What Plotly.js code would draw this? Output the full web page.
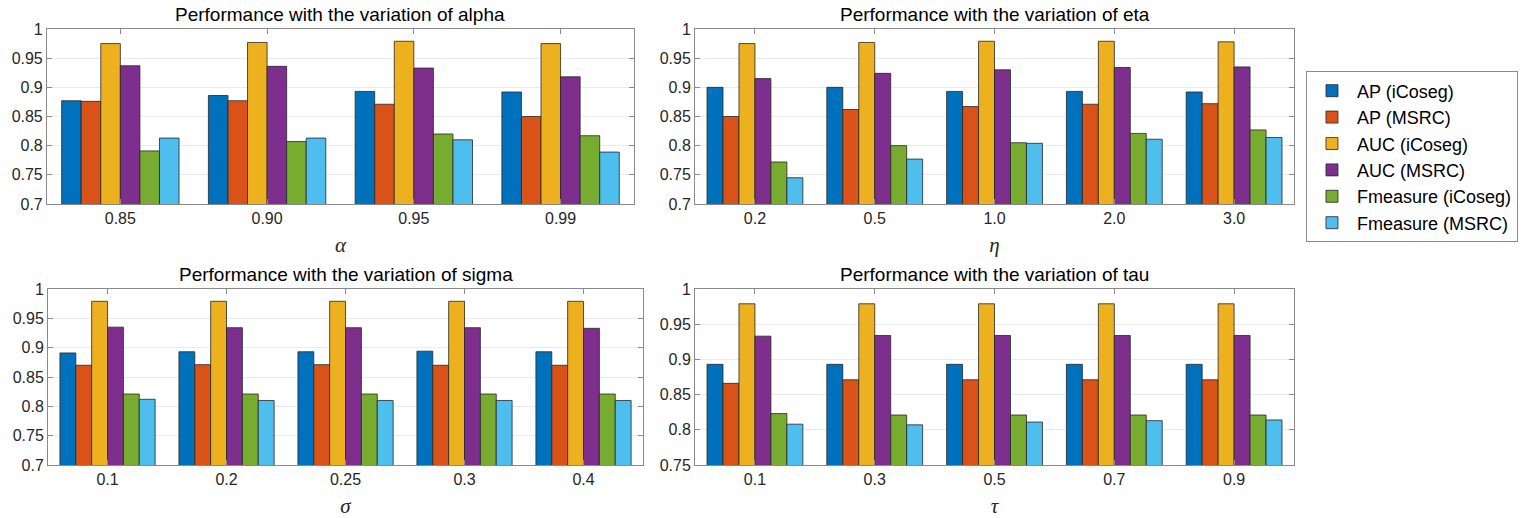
<!DOCTYPE html>
<html>
<head>
<meta charset="utf-8">
<script src="https://cdn.plot.ly/plotly-3.0.1.min.js"></script>
<style>body{margin:0;background:#fff}#myDiv{width:1535px;height:518px}</style>
</head>
<body>
<div id="myDiv"></div>
<script>
var seriesNames = ['AP (iCoseg)', 'AP (MSRC)', 'AUC (iCoseg)', 'AUC (MSRC)', 'Fmeasure (iCoseg)', 'Fmeasure (MSRC)'];
var seriesColors = ['#0072BD', '#D95319', '#EDB120', '#7E2F8E', '#77AC30', '#4DBEEE'];

// one row per series, same order as seriesNames
var alphaCats = ['0.85', '0.90', '0.95', '0.99'];
var alphaVals = [
  [0.877, 0.886, 0.893, 0.892],
  [0.876, 0.877, 0.871, 0.850],
  [0.975, 0.977, 0.979, 0.975],
  [0.937, 0.936, 0.933, 0.918],
  [0.791, 0.807, 0.820, 0.817],
  [0.813, 0.813, 0.810, 0.789]
];

var etaCats = ['0.2', '0.5', '1.0', '2.0', '3.0'];
var etaVals = [
  [0.900, 0.900, 0.893, 0.893, 0.892],
  [0.850, 0.862, 0.867, 0.871, 0.872],
  [0.975, 0.977, 0.979, 0.979, 0.978],
  [0.915, 0.924, 0.930, 0.934, 0.935],
  [0.772, 0.800, 0.805, 0.821, 0.827],
  [0.745, 0.777, 0.804, 0.811, 0.814]
];

var sigmaCats = ['0.1', '0.2', '0.25', '0.3', '0.4'];
var sigmaVals = [
  [0.891, 0.893, 0.893, 0.894, 0.893],
  [0.870, 0.871, 0.871, 0.870, 0.870],
  [0.979, 0.979, 0.979, 0.979, 0.979],
  [0.935, 0.934, 0.934, 0.934, 0.933],
  [0.821, 0.821, 0.821, 0.821, 0.821],
  [0.812, 0.810, 0.810, 0.810, 0.810]
];

var tauCats = ['0.1', '0.3', '0.5', '0.7', '0.9'];
var tauVals = [
  [0.893, 0.893, 0.893, 0.893, 0.893],
  [0.866, 0.871, 0.871, 0.871, 0.871],
  [0.979, 0.979, 0.979, 0.979, 0.979],
  [0.933, 0.934, 0.934, 0.934, 0.934],
  [0.823, 0.821, 0.821, 0.821, 0.821],
  [0.808, 0.807, 0.811, 0.813, 0.814]
];

var yTicks1 = [0.7, 0.75, 0.8, 0.85, 0.9, 0.95, 1];
var yText1 = ['0.7', '0.75', '0.8', '0.85', '0.9', '0.95', '1'];
var yTicks2 = [0.75, 0.8, 0.85, 0.9, 0.95, 1];
var yText2 = ['0.75', '0.8', '0.85', '0.9', '0.95', '1'];

var panels = [
  {cats: alphaCats, vals: alphaVals, xa: 'x', ya: 'y'},
  {cats: etaCats, vals: etaVals, xa: 'x2', ya: 'y2'},
  {cats: sigmaCats, vals: sigmaVals, xa: 'x3', ya: 'y3'},
  {cats: tauCats, vals: tauVals, xa: 'x4', ya: 'y4'}
];

var data = [];
panels.forEach(function(p, pi) {
  p.vals.forEach(function(row, si) {
    data.push({
      type: 'bar',
      x: p.cats,
      y: row,
      xaxis: p.xa,
      yaxis: p.ya,
      name: seriesNames[si],
      legendgroup: seriesNames[si],
      showlegend: pi === 0,
      marker: {color: seriesColors[si], line: {color: '#262626', width: 0.8}},
      hoverinfo: 'x+y+name'
    });
  });
});

var tickFont = {family: 'Liberation Sans, Arial, sans-serif', size: 16, color: '#262626'};

function xAx(dom, anchor, n, sym) {
  return {
    domain: dom, anchor: anchor, type: 'category',
    range: [-0.5, n - 0.5],
    showline: true, mirror: 'ticks', linecolor: '#8a8a8a', linewidth: 1,
    ticks: 'inside', ticklen: 5, tickcolor: '#8a8a8a',
    showgrid: false, zeroline: false, automargin: false,
    tickfont: tickFont,
    title: {text: '<i>' + sym + '</i>', standoff: 11,
            font: {family: 'Liberation Serif, Times New Roman, serif', size: 21, color: '#262626'}}
  };
}
function yAx(dom, anchor, vals, text) {
  return {
    domain: dom, anchor: anchor,
    range: [vals[0], 1],
    tickvals: vals, ticktext: text,
    showline: true, mirror: 'ticks', linecolor: '#8a8a8a', linewidth: 1,
    ticks: 'inside', ticklen: 5, tickcolor: '#8a8a8a',
    showgrid: true, gridcolor: '#ebebeb', gridwidth: 1,
    zeroline: false, automargin: false,
    tickfont: tickFont
  };
}

var topDom = [0.6062, 0.944];
var botDom = [0.1023, 0.4421];
var dTL = [0.0306, 0.4130], dTR = [0.4528, 0.8430];
var dBL = [0.0313, 0.4189], dBR = [0.4528, 0.8430];

function panelTitle(txt, dom, ytop) {
  return {
    text: txt, xref: 'paper', yref: 'paper',
    x: (dom[0] + dom[1]) / 2, y: ytop, xanchor: 'center', yanchor: 'bottom',
    yshift: 2, showarrow: false,
    font: {family: 'Liberation Sans, Arial, sans-serif', size: 19, color: '#000'}
  };
}

var layout = {
  width: 1535, height: 518,
  margin: {l: 0, r: 0, t: 0, b: 0},
  paper_bgcolor: '#fff', plot_bgcolor: '#fff',
  barmode: 'group', bargap: 0.2, bargroupgap: 0,
  xaxis: xAx(dTL, 'y', alphaCats.length, 'α'),
  yaxis: yAx(topDom, 'x', yTicks1, yText1),
  xaxis2: xAx(dTR, 'y2', etaCats.length, 'η'),
  yaxis2: yAx(topDom, 'x2', yTicks1, yText1),
  xaxis3: xAx(dBL, 'y3', sigmaCats.length, 'σ'),
  yaxis3: yAx(botDom, 'x3', yTicks1, yText1),
  xaxis4: xAx(dBR, 'y4', tauCats.length, 'τ'),
  yaxis4: yAx(botDom, 'x4', yTicks2, yText2),
  annotations: [
    panelTitle('Performance with the variation of alpha', dTL, topDom[1]),
    panelTitle('Performance with the variation of eta', dTR, topDom[1]),
    panelTitle('Performance with the variation of sigma', dBL, botDom[1]),
    panelTitle('Performance with the variation of tau', dBR, botDom[1])
  ],
  legend: {
    x: 0.8508, y: 0.862, xanchor: 'left', yanchor: 'top',
    bgcolor: '#fff', bordercolor: '#8a8a8a', borderwidth: 1,
    font: {family: 'Liberation Sans, Arial, sans-serif', size: 18, color: '#000'},
    itemwidth: 40, tracegroupgap: 0
  },
  showlegend: true
};

Plotly.newPlot('myDiv', data, layout, {displayModeBar: false, staticPlot: true});
</script>
</body>
</html>
